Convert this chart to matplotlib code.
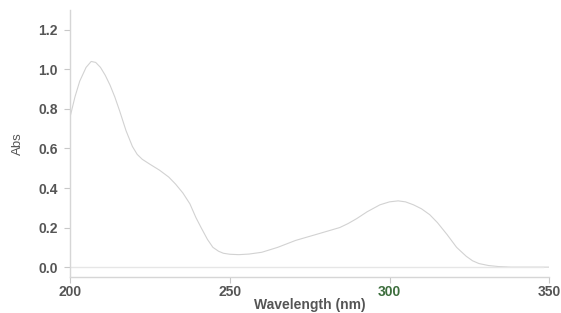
import matplotlib
matplotlib.use("Agg")
import matplotlib.pyplot as plt

wavelength = [200, 201.5, 203, 205, 206.6, 208, 209.5, 211, 212.5, 214, 215.5, 217.5, 219.5, 221, 222.6,
              225, 228, 230.9, 233, 235.3, 237.5, 239.4, 241, 243, 244.7, 246.5, 248, 250, 252.8,
              256, 260, 265, 270.6, 277, 284.4, 287, 289.7, 293, 297, 300, 302.7, 305, 307.5,
              310, 312.6, 315, 318, 321, 324, 326, 328, 331, 334, 338, 342, 350]
absorbance = [0.76, 0.86, 0.94, 1.01, 1.04, 1.035, 1.01, 0.97, 0.92, 0.86, 0.79, 0.69, 0.61, 0.57, 0.545,
              0.52, 0.49, 0.455, 0.42, 0.375, 0.32, 0.25, 0.20, 0.14, 0.10, 0.08, 0.07, 0.065, 0.063,
              0.066, 0.075, 0.10, 0.135, 0.165, 0.20, 0.22, 0.245, 0.28, 0.315, 0.33, 0.335, 0.33, 0.315,
              0.295, 0.265, 0.225, 0.165, 0.10, 0.055, 0.032, 0.018, 0.008, 0.003, 0.0, 0.0, 0.0]

xticks = [200, 250, 300, 350]
yticks = [0.0, 0.2, 0.4, 0.6, 0.8, 1.0, 1.2]

fig = plt.figure(figsize=(5.61, 3.13), dpi=100)
ax = fig.add_axes([0.125, 0.115, 0.854, 0.853])

ax.plot(wavelength, absorbance, color="#d2d2d2", lw=0.8)
ax.plot([200, 348], [0, 0], color="#e6e6e6", lw=1.0)

ax.set_xlim(200, 350)
ax.set_ylim(-0.05, 1.3)
ax.set_xticks(xticks)
ax.set_yticks(yticks)
ax.set_xticklabels([str(t) for t in xticks])
ax.set_yticklabels([f"{t:.1f}" for t in yticks])

for s in ["top", "right"]:
    ax.spines[s].set_visible(False)
for s in ["left", "bottom"]:
    ax.spines[s].set_color("#d6d6d6")
    ax.spines[s].set_linewidth(1.0)

ax.tick_params(axis="both", colors="#c8c8c8", length=4, width=0.8, labelsize=10, pad=5)
ax.tick_params(axis="x", pad=2)
for lab in ax.get_xticklabels() + ax.get_yticklabels():
    lab.set_color("#555555")
    lab.set_fontweight("bold")
    lab.set_family("Liberation Sans")
ax.get_xticklabels()[2].set_color("#3d6e3d")

ax.set_ylabel("Abs", fontsize=9.5, color="#555555", family="Liberation Sans", labelpad=10)
ax.set_xlabel("Wavelength (nm)", fontsize=10, fontweight="bold", color="#555555",
              family="Liberation Sans", labelpad=-1)

fig.savefig("out.png", dpi=100, facecolor="white")
